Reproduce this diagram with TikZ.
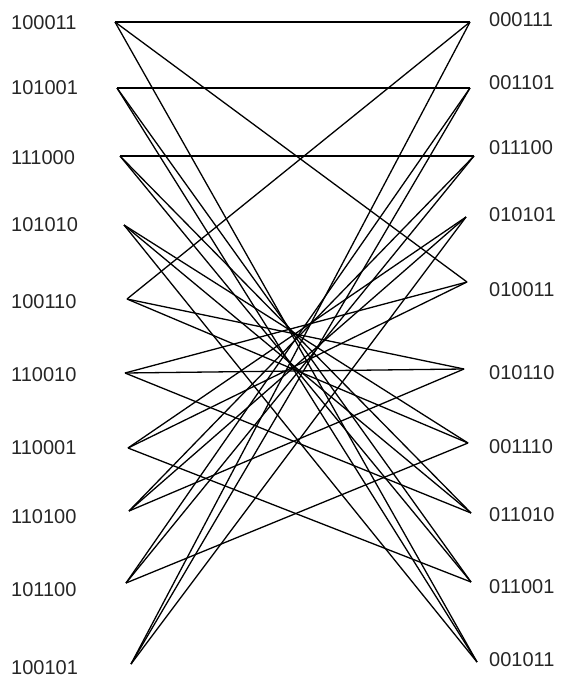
\documentclass[tikz,border=0pt]{standalone}
\usepackage{fontspec}
\setmainfont{Liberation Sans}
\usetikzlibrary{positioning}

\begin{document}
\begin{tikzpicture}[x=1pt, y=-1pt,
  edge/.style={line width=1.3pt, black},
  lbl/.style={font=\fontsize{20}{22}\selectfont, inner sep=0pt, text=black!85}]
  \useasboundingbox (0,0) rectangle (564,682);
  % Left vertices (first bit 1)
  \foreach \name/\x/\y/\ty in {100011/115/22/23, 101001/117/88/88, 111000/120/156/158,
      101010/124/225/225, 100110/127/299/302, 110010/125/373/375, 110001/128/448/448,
      110100/129/511/517, 101100/126/583/590, 100101/131/664/668}{
    \coordinate (l\name) at (\x,\y);
    \node[lbl, anchor=west] (tl\name) at (11,\ty) {\name};
  }
  % Right vertices (first bit 0)
  \foreach \name/\x/\y/\ty in {000111/470/22/20, 001101/470/88/83, 011100/474/156/148,
      010101/466/217/215, 010011/467/282/290, 010110/464/369/373, 001110/468/443/447,
      011010/471/513/515, 011001/471/582/587, 001011/477/662/660}{
    \coordinate (r\name) at (\x,\y);
    \node[lbl, anchor=west] (tr\name) at (489,\ty) {\name};
  }
  % Edges: move the leading 1 to one of the free positions
  \foreach \a/\b/\c/\d in {100011/000111/010011/001011, 101001/001101/011001/001011,
      111000/011100/011010/011001, 101010/011010/001110/001011,
      100110/010110/001110/000111, 110010/010110/011010/010011,
      110001/011001/010101/010011, 110100/011100/010110/010101,
      101100/011100/001110/001101, 100101/010101/001101/000111}{
    \draw[edge] (l\a) -- (r\b);
    \draw[edge] (l\a) -- (r\c);
    \draw[edge] (l\a) -- (r\d);
  }
\end{tikzpicture}
\end{document}
